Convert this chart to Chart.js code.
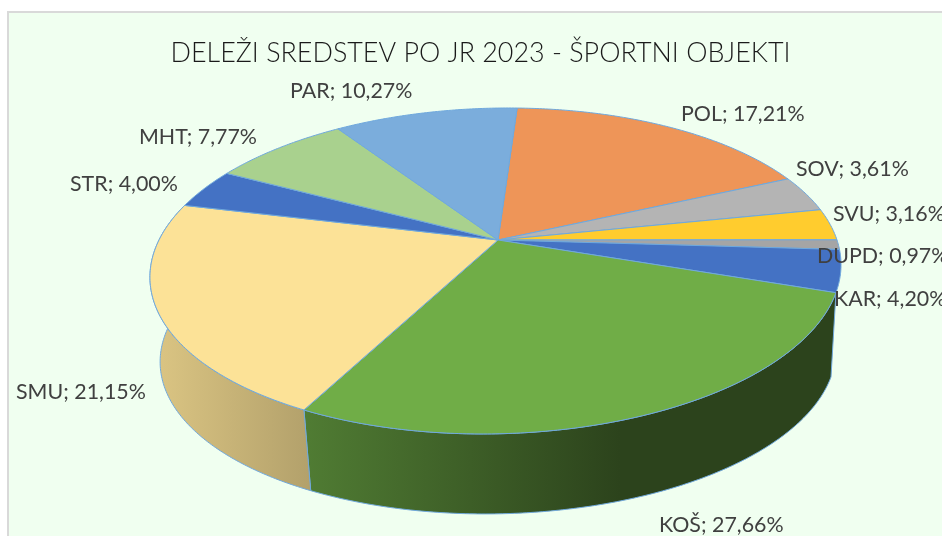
<!DOCTYPE html>
<html><head><meta charset="utf-8">
<style>
html,body{margin:0;padding:0;background:#fff;overflow:hidden}
#panel{position:absolute;left:7px;top:11px;width:940px;height:530px;background:#F0FFF0;border-left:2px solid #d9d9d9;border-top:2px solid #d9d9d9}
#c{position:absolute;left:0;top:0}
</style>
<script src="https://cdn.jsdelivr.net/npm/chart.js@4/dist/chart.umd.min.js"></script>
</head><body>
<div id="panel"></div>
<canvas id="c" width="942" height="536"></canvas>
<script>
const chartTitle = 'DELEŽI SREDSTEV PO JR 2023 - ŠPORTNI OBJEKTI';
const categories = ['POL','SOV','SVU','DUPD','KAR','KOŠ','SMU','STR','MHT','PAR'];
const shares = [17.21,3.61,3.16,0.97,4.20,27.66,21.15,4.00,7.77,10.27];
const sliceColors = ['#EE9558','#B4B4B4','#FFCC2E','#A5A5A5','#4472C4','#70AD47','#FCE297','#4472C4','#A9D18E','#7BADDC'];
const labelAnchors = [[681,114],[796,169],[833,214],[817,256],[834,299],[659,525],[16,392],[70,184],[139,137],[290,91]];

// perspective projection of the unit disc onto the tilted pie top / bottom
const P = {x0:498,y0:240,d:339,e:-12.7,a:111.5,c:-0.19,warp:0.0166,warpLeft:0.016};
function top_(u,v){const w=1+P.c*v;return [P.x0+(P.d*u+P.e*v)/w,(P.a*v+P.y0)/w];}
function bot_(u,v){const p=top_(u,v);return [498+(p[0]-498)*0.978+2.5,p[1]*0.97+93];}
function arcPts(f,a0,a1){const n=Math.max(2,Math.ceil((a1-a0)/0.01)),o=[];
  for(let i=0;i<=n;i++){let t=a0+(a1-a0)*i/n;
    t+=P.warp*(1+Math.cos(2*t))-P.warpLeft*Math.max(0,-Math.cos(t));
    o.push(f(Math.cos(t),Math.sin(t)));}return o;}
function shade(hex,m){const n=parseInt(hex.slice(1),16);
  return 'rgb('+[(n>>16)&255,(n>>8)&255,n&255].map(c=>Math.round(c*m)).join(',')+')';}

const pie3d = {
  id:'pie3d',
  beforeDatasetDraw(chart,args){
    const ctx=chart.ctx, arcs=chart.getDatasetMeta(args.index).data;
    const stroke='#6FA8DC';
    ctx.save(); ctx.lineJoin='round'; ctx.lineWidth=1; ctx.strokeStyle=stroke;
    // side walls of the front-facing slices
    arcs.forEach((el,i)=>{
      if(Math.sin((el.startAngle+el.endAngle)/2)<0.3) return;
      const t=arcPts(top_,el.startAngle,el.endAngle), b=arcPts(bot_,el.startAngle,el.endAngle);
      const g=ctx.createLinearGradient(155,0,620,0);
      g.addColorStop(0,shade(sliceColors[i],0.87)); g.addColorStop(1,shade(sliceColors[i],0.39));
      ctx.beginPath(); t.forEach((p,k)=>k?ctx.lineTo(p[0],p[1]):ctx.moveTo(p[0],p[1]));
      b.reverse().forEach(p=>ctx.lineTo(p[0],p[1])); ctx.closePath();
      ctx.fillStyle=g; ctx.fill(); ctx.stroke();
    });
    // top faces
    arcs.forEach((el,i)=>{
      const t=arcPts(top_,el.startAngle,el.endAngle);
      ctx.beginPath(); ctx.moveTo(P.x0,P.y0); t.forEach(p=>ctx.lineTo(p[0],p[1])); ctx.closePath();
      ctx.fillStyle=sliceColors[i]; ctx.fill(); ctx.stroke();
    });
    ctx.restore();
    return false;
  },
  afterDraw(chart){
    const ctx=chart.ctx; ctx.save();
    ctx.font='21.4px Lato'; ctx.fillStyle='#404040'; ctx.textBaseline='middle'; ctx.textAlign='left';
    categories.forEach((c,i)=>{
      ctx.fillText(c+'; '+shares[i].toFixed(2).replace('.',',')+'%',labelAnchors[i][0],labelAnchors[i][1]);
    });
    ctx.restore();
  }
};

new Chart(document.getElementById('c'),{
  type:'pie',
  data:{labels:categories,datasets:[{data:shares,backgroundColor:sliceColors}]},
  plugins:[pie3d],
  options:{
    responsive:false,animation:false,rotation:1.7,
    layout:{padding:{left:19}},
    plugins:{
      legend:{display:false},tooltip:{enabled:false},
      title:{display:true,text:chartTitle,color:'#1a1a1a',font:{family:'Lato',size:26.9,weight:'300'},padding:{top:37,bottom:10}}
    }
  }
});
</script>
</body></html>
